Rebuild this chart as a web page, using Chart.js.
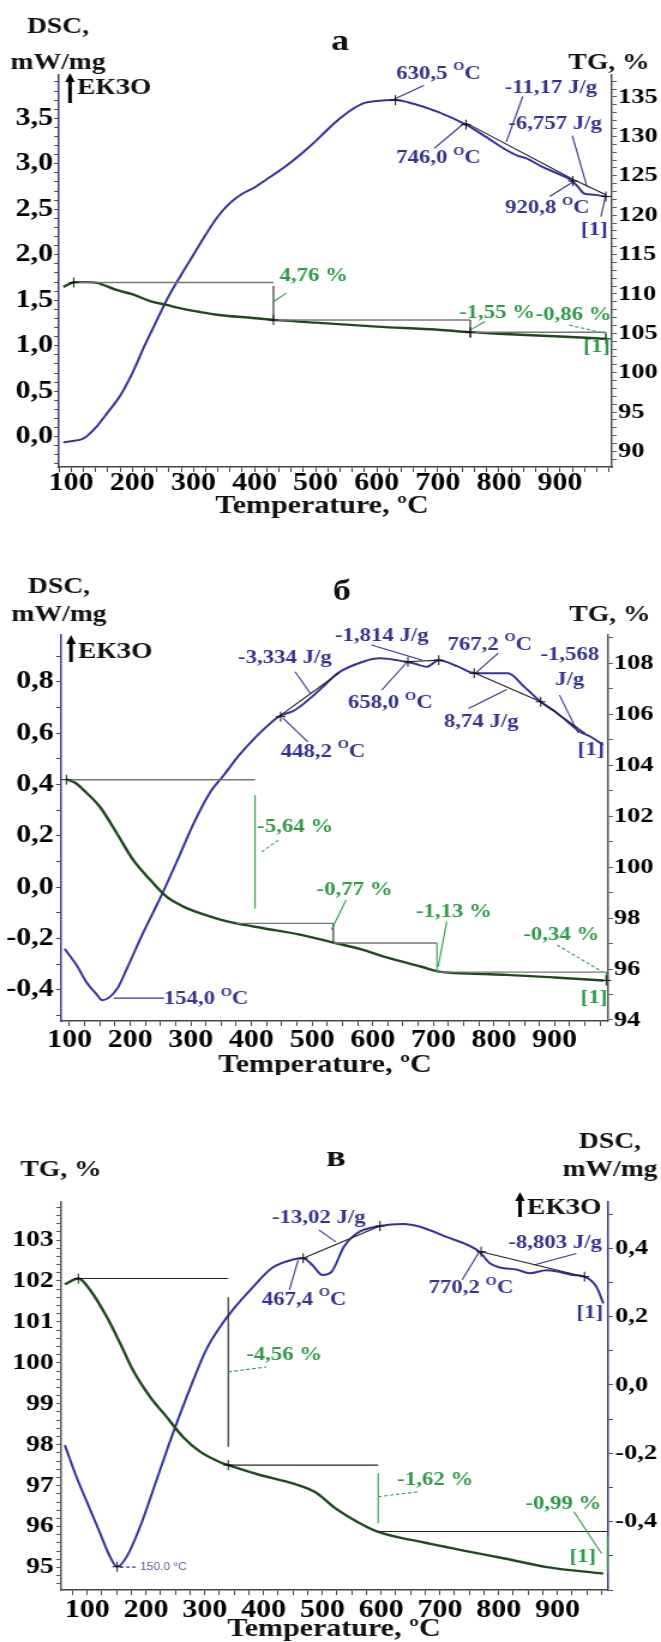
<!DOCTYPE html>
<html>
<head>
<meta charset="utf-8">
<script src="https://cdn.jsdelivr.net/npm/chart.js@4.4.1/dist/chart.umd.min.js"></script>
<style>
  body { margin: 0; background: #fff; }
  #page { position: relative; width: 661px; height: 1642px; overflow: hidden; }
  canvas { position: absolute; left: 0; }
</style>
</head>
<body>
<div id="page">
  <canvas id="chartA" width="551" height="525" style="top:0;width:661px;height:525px"></canvas>
  <canvas id="chartB" width="551" height="545" style="top:530px;width:661px;height:545px"></canvas>
  <canvas id="chartC" width="551" height="562" style="top:1080px;width:661px;height:562px"></canvas>
</div>
<script>
// the figure is a bit stretched sideways, so the canvases are drawn narrow and widened by css
const SX = 661 / 551;
const SERIF = "'Liberation Serif', 'Times New Roman', serif";
Chart.defaults.font.family = SERIF;

const xTicks = [100, 200, 300, 400, 500, 600, 700, 800, 900];

// ---- а ----
const tDscA = [87, 100, 120, 140, 160, 180, 200, 220, 240, 260, 280, 300, 320, 340, 360, 380, 400, 420, 440, 460,
  480, 500, 520, 540, 560, 580, 600, 630, 660, 700, 746, 780, 810, 830, 845, 870, 900, 920, 930, 940, 955, 975];
const dscA = [-0.06, -0.05, -0.02, 0.10, 0.27, 0.45, 0.70, 1.00, 1.28, 1.55, 1.78, 2.00, 2.22, 2.42, 2.57, 2.67, 2.74, 2.83, 2.92, 3.02,
  3.13, 3.25, 3.38, 3.50, 3.60, 3.67, 3.69, 3.70, 3.66, 3.57, 3.43, 3.29, 3.16, 3.09, 3.06, 2.97, 2.88, 2.81, 2.74, 2.67, 2.66, 2.64];
const tTgA = [87, 106, 125, 142, 174, 202, 229, 256, 283, 311, 345, 390, 431, 500, 600, 700, 753, 800, 900, 975];
const tgA = [110.9, 111.5, 111.5, 111.4, 110.5, 109.9, 109.1, 108.6, 108.1, 107.7, 107.3, 107.0, 106.7, 106.35, 105.85, 105.45, 105.15, 104.95, 104.6, 104.3];
const dscTicksA = [0, 0.5, 1, 1.5, 2, 2.5, 3, 3.5];
const tgTicksA = [90, 95, 100, 105, 110, 115, 120, 125, 130, 135];

// ---- б ----
const tDscB = [92, 112, 128, 145, 154, 165, 180, 195, 220, 250, 277, 304, 332, 354, 380, 403, 425, 445, 472, 500,
  520, 542, 584, 612, 654, 670, 689, 709, 740, 769, 800, 823, 850, 877, 900, 918, 942, 960, 980];
const dscB = [-0.24, -0.305, -0.37, -0.418, -0.44, -0.43, -0.39, -0.315, -0.185, -0.04, 0.10, 0.245, 0.37, 0.435, 0.515, 0.575, 0.625, 0.664, 0.69, 0.742,
  0.785, 0.833, 0.878, 0.891, 0.878, 0.87, 0.858, 0.884, 0.86, 0.833, 0.833, 0.833, 0.78, 0.722, 0.685, 0.651, 0.605, 0.585, 0.554];
const tTgB = [95, 110, 123, 150, 178, 205, 233, 260, 288, 315, 350, 375, 420, 480, 538, 580, 618, 650, 682, 709, 760, 821, 900, 981];
const tgB = [103.45, 103.3, 103.03, 102.37, 101.33, 100.28, 99.5, 98.84, 98.45, 98.19, 97.93, 97.79, 97.6, 97.35, 97.02, 96.78, 96.49, 96.28, 96.08, 95.9, 95.82, 95.77, 95.67, 95.55];
const dscTicksB = [-0.4, -0.2, 0, 0.2, 0.4, 0.6, 0.8];
const tgTicksB = [94, 96, 98, 100, 102, 104, 106, 108];

// ---- в ----
const tDscC = [62, 82, 99, 122, 139, 151, 167, 190, 218, 246, 275, 303, 328, 350, 380, 415, 450, 467, 483, 500,
  516, 537, 559, 598, 638, 666, 710, 767, 785, 802, 830, 853, 881, 905, 926, 946, 966, 978];
const dscC = [-0.176, -0.27, -0.34, -0.434, -0.503, -0.532, -0.503, -0.415, -0.278, -0.141, -0.01, 0.105, 0.175, 0.225, 0.283, 0.343, 0.367, 0.371, 0.351, 0.322,
  0.332, 0.405, 0.444, 0.465, 0.471, 0.463, 0.434, 0.39, 0.356, 0.344, 0.338, 0.327, 0.336, 0.33, 0.322, 0.317, 0.288, 0.239];
const tTgC = [62, 85, 105, 133, 156, 178, 207, 235, 263, 292, 328, 340, 394, 451, 487, 523, 559, 595, 666, 738, 810, 882, 978];
const tgC = [101.92, 102.06, 101.78, 101.13, 100.48, 99.82, 99.17, 98.68, 98.19, 97.83, 97.56, 97.5, 97.26, 97.05, 96.85, 96.44, 96.12, 95.87, 95.63, 95.42, 95.22, 95.01, 94.85];
const tgTicksC = [95, 96, 97, 98, 99, 100, 101, 102, 103];
const dscTicksC = [-0.4, -0.2, 0, 0.2, 0.4];

// annotations, in data units: [axis, text, T, value, colour]
const labelsA = [
  ['dsc', '630,5 °C', 701, 3.99, 'b'], ['dsc', '-11,17 J/g', 885, 3.83, 'b'], ['dsc', '746,0 °C', 701, 3.06, 'b'],
  ['dsc', '-6,757 J/g', 892, 3.44, 'b'], ['dsc', '920,8 °C', 879, 2.51, 'b'], ['dsc', '[1]', 956, 2.27, 'b'],
  ['tg', '4,76 %', 497, 112.2, 'g'], ['tg', '-1,55 %', 797, 107.55, 'g'], ['tg', '-0,86 %', 922, 107.35, 'g'], ['tg', '[1]', 960, 103.3, 'g']
];
const labelsB = [
  ['dsc', '-3,334 J/g', 455, 0.891, 'b'], ['dsc', '-1,814 J/g', 615, 0.978, 'b'], ['dsc', '767,2 °C', 793, 0.943, 'b'],
  ['dsc', '-1,568', 925, 0.904, 'b'], ['dsc', 'J/g', 925, 0.807, 'b'], ['dsc', '658,0 °C', 629, 0.716, 'b'],
  ['dsc', '8,74 J/g', 779, 0.644, 'b'], ['dsc', '448,2 °C', 518, 0.528, 'b'], ['dsc', '[1]', 960, 0.534, 'b'],
  ['dsc', '154,0 °C', 325, -0.437, 'b'],
  ['tg', '-5,64 %', 472, 101.59, 'g'], ['tg', '-0,77 %', 570, 99.1, 'g'], ['tg', '-1,13 %', 734, 98.25, 'g'],
  ['tg', '-0,34 %', 911, 97.34, 'g'], ['tg', '[1]', 965, 94.85, 'g']
];
const labelsC = [
  ['dsc', '-13,02 J/g', 494, 0.488, 'b'], ['dsc', '467,4 °C', 469, 0.249, 'b'], ['dsc', '770,2 °C', 753, 0.283, 'b'],
  ['dsc', '-8,803 J/g', 896, 0.415, 'b'], ['dsc', '[1]', 955, 0.21, 'b'],
  ['tg', '-4,56 %', 435, 100.19, 'g'], ['tg', '-1,62 %', 692, 97.13, 'g'], ['tg', '-0,99 %', 910, 96.56, 'g'], ['tg', '[1]', 943, 95.26, 'g']
];

// [axis, T1, v1, T2, v2, colour, dashed]
const linesA = [
  ['dsc', 677, 3.86, 628, 3.71, 'b'], ['dsc', 839, 3.74, 812, 3.24, 'b'], ['dsc', 694, 3.17, 742, 3.44, 'b'],
  ['dsc', 920, 3.31, 944, 2.75, 'b'], ['dsc', 883, 2.64, 921, 2.80, 'b'], ['dsc', 967, 2.42, 975, 2.66, 'b'],
  ['dsc', 746, 3.45, 920.8, 2.83, 'k'], ['dsc', 920.8, 2.83, 975, 2.66, 'k'],
  ['tg', 104, 111.45, 431, 111.45, 's'], ['tg', 431, 106.69, 753, 106.69, 's'], ['tg', 753, 105.14, 975, 105.14, 's'],
  ['tg', 431, 111.0, 431, 106.5, 'k'], ['tg', 753, 106.69, 753, 104.4, 'k'], ['tg', 975, 105.14, 975, 104.3, 'g'],
  ['tg', 452, 110.1, 431, 109.0, 'g'], ['tg', 777, 106.5, 753, 105.4, 'g'], ['tg', 915, 106.05, 973, 105.0, 'g', true]
];
const linesB = [
  ['dsc', 472, 0.839, 497, 0.755, 'b'], ['dsc', 598, 0.943, 682, 0.884, 'b'], ['dsc', 807, 0.911, 769, 0.833, 'b'],
  ['dsc', 908, 0.748, 939, 0.60, 'b'], ['dsc', 615, 0.768, 657, 0.878, 'b'], ['dsc', 758, 0.696, 821, 0.77, 'b'],
  ['dsc', 493, 0.566, 452, 0.658, 'b'], ['dsc', 173, -0.432, 256, -0.432, 'b'],
  ['dsc', 445, 0.664, 545, 0.835, 'k'], ['dsc', 658, 0.878, 709, 0.884, 'k'], ['dsc', 769, 0.833, 877, 0.722, 'k'], ['dsc', 877, 0.722, 950, 0.60, 'k'],
  ['tg', 95, 103.43, 406, 103.43, 's'], ['tg', 375, 97.79, 535, 97.79, 's'], ['tg', 535, 97.02, 706, 97.02, 's'], ['tg', 706, 95.88, 985, 95.88, 's'],
  ['tg', 406, 102.83, 406, 98.38, 'g'], ['tg', 535, 97.79, 535, 97.02, 'k'], ['tg', 706, 97.02, 706, 95.88, 'g'], ['tg', 985, 95.88, 985, 95.55, 'g'],
  ['tg', 417, 100.6, 445, 101.07, 'g', true], ['tg', 556, 98.71, 532, 97.54, 'g'], ['tg', 722, 97.86, 708, 96.09, 'g'], ['tg', 904, 96.94, 978, 95.9, 'g', true]
];
const linesC = [
  ['dsc', 494, 0.454, 523, 0.419, 'b'], ['dsc', 444, 0.278, 459, 0.366, 'b'], ['dsc', 738, 0.308, 767, 0.39, 'b'], ['dsc', 932, 0.385, 860, 0.351, 'b'],
  ['dsc', 156, -0.533, 186, -0.533, 'b', true],
  ['dsc', 467.4, 0.371, 598, 0.465, 'k'], ['dsc', 770.2, 0.39, 946, 0.317, 'k'],
  ['tg', 85, 102.06, 340, 102.06, 'k'], ['tg', 340, 97.5, 595, 97.5, 'k'], ['tg', 595, 95.88, 985, 95.88, 'k'],
  ['tg', 340, 101.6, 340, 97.95, 'k'], ['tg', 595, 97.3, 595, 96.08, 'g'], ['tg', 985, 95.75, 985, 94.89, 'g'],
  ['tg', 340, 99.78, 405, 99.9, 'g', true], ['tg', 595, 96.73, 663, 96.85, 'g', true], ['tg', 928, 96.36, 975, 95.34, 'g']
];

// small + marks: [axis, T, value]
const crossesA = [['dsc', 630.5, 3.70], ['dsc', 746, 3.43], ['dsc', 920.8, 2.81], ['dsc', 975, 2.64],
  ['tg', 104, 111.45], ['tg', 431, 106.69], ['tg', 753, 105.14], ['tg', 975, 104.3]];
const crossesB = [['dsc', 448.2, 0.664], ['dsc', 658, 0.878], ['dsc', 709, 0.884], ['dsc', 767.2, 0.833], ['dsc', 877, 0.722],
  ['tg', 95, 103.43], ['tg', 985, 95.55]];
const crossesC = [['dsc', 467.4, 0.371], ['dsc', 598, 0.465], ['dsc', 770.2, 0.39], ['dsc', 946, 0.317], ['dsc', 151, -0.532],
  ['tg', 85, 102.06], ['tg', 340, 97.5]];

const COL = { b: '#34348f', g: '#2f9a48', k: '#222', s: '#777' };

function tickSet(step, min, max) {
  const out = [];
  for (let k = Math.ceil(min / step - 1e-9); k * step <= max + 1e-9; k++) {
    out.push({ value: Math.round(k * step * 1e6) / 1e6 });
  }
  return out;
}
const isMajor = (list, v) => list.some(m => Math.abs(m - v) < 1e-6);
const comma = v => v.toFixed(1).replace('.', ',');

function drawText(ctx, text, x, y, color, size, align) {
  const font = s => 'bold ' + s + 'px ' + SERIF;
  ctx.fillStyle = color;
  ctx.textBaseline = 'middle';
  const i = text.indexOf('°');
  if (i < 0) {
    ctx.font = font(size);
    ctx.textAlign = align || 'center';
    ctx.fillText(text, x, y);
    return;
  }
  // the degree sign is printed as a raised capital O in the original
  const a = text.slice(0, i), b = text.slice(i + 1), ss = Math.round(size * 0.62);
  ctx.font = font(size);
  const wa = ctx.measureText(a).width, wb = ctx.measureText(b).width;
  ctx.font = font(ss);
  const wo = ctx.measureText('O').width;
  const x0 = x - (wa + wo + wb) / 2;
  ctx.textAlign = 'left';
  ctx.font = font(size); ctx.fillText(a, x0, y);
  ctx.font = font(ss); ctx.fillText('O', x0 + wa, y - size * 0.36);
  ctx.font = font(size); ctx.fillText(b, x0 + wa + wo, y);
}

function drawNotes(chart, p) {
  const ctx = chart.ctx;
  const X = chart.scales.x;
  const px = t => X.getPixelForValue(t);
  const py = (a, v) => chart.scales[a].getPixelForValue(v);
  ctx.save();
  p.lines.forEach(([a, t1, v1, t2, v2, c, dash]) => {
    ctx.beginPath();
    ctx.setLineDash(dash ? [3, 2] : []);
    ctx.strokeStyle = COL[c];
    ctx.lineWidth = c === 's' ? 1.4 : 1.1;
    ctx.moveTo(px(t1), py(a, v1));
    ctx.lineTo(px(t2), py(a, v2));
    ctx.stroke();
  });
  ctx.setLineDash([]);
  p.crosses.forEach(([a, t, v]) => {
    const x = px(t), y = py(a, v);
    ctx.beginPath();
    ctx.strokeStyle = '#111';
    ctx.lineWidth = 1;
    ctx.moveTo(x - 4, y); ctx.lineTo(x + 4, y);
    ctx.moveTo(x, y - 5); ctx.lineTo(x, y + 5);
    ctx.stroke();
  });
  p.labels.forEach(([a, text, t, v, c]) => drawText(ctx, text, px(t), py(a, v), COL[c], 19));
  if (p.small) {
    ctx.font = '10px "Liberation Sans", sans-serif';
    ctx.fillStyle = '#5a5a9a';
    ctx.textAlign = 'left';
    ctx.textBaseline = 'middle';
    ctx.fillText(p.small[0], px(p.small[1]), py('dsc', p.small[2]));
  }
  // axis captions and panel letter, page coordinates
  const top = p.canvasTop;
  p.titles.forEach(([text, x, y, size]) => drawText(ctx, text, x / SX, y - top, '#111', size));
  const [ax, ay1, ay2, tx, ty] = p.exo;
  ctx.strokeStyle = '#000'; ctx.fillStyle = '#000'; ctx.lineWidth = 3;
  ctx.beginPath(); ctx.moveTo(ax / SX, ay1 - top + 7); ctx.lineTo(ax / SX, ay2 - top); ctx.stroke();
  ctx.beginPath();
  ctx.moveTo(ax / SX, ay1 - top); ctx.lineTo(ax / SX - 4, ay1 - top + 9); ctx.lineTo(ax / SX + 4, ay1 - top + 9);
  ctx.closePath(); ctx.fill();
  drawText(ctx, 'ЕКЗО', tx / SX, ty - top, '#111', 23, 'left');
  ctx.restore();
}

function yScale(pos, min, max, list, step, width, fmt, size, pad, color) {
  return {
    type: 'linear', position: pos, min: min, max: max,
    afterFit: s => { s.width = width; },
    afterBuildTicks: s => { s.ticks = tickSet(step, min, max); },
    ticks: {
      autoSkip: false, padding: pad, color: '#000',
      font: { family: SERIF, weight: 'bold', size: size },
      callback: v => isMajor(list, v) ? fmt(v) : ''
    },
    grid: { drawOnChartArea: false, tickLength: 4, color: color },
    border: { color: color, width: 1.5 }
  };
}

function buildPanel(id, p) {
  const dscSet = { data: p.tDsc.map((t, i) => ({ x: t, y: p.dsc[i] })), yAxisID: 'dsc',
    borderColor: '#3232a0', borderWidth: 2, pointRadius: 0, cubicInterpolationMode: 'monotone' };
  const tgSet = { data: p.tTg.map((t, i) => ({ x: t, y: p.tg[i] })), yAxisID: 'tg',
    borderColor: '#1f4a1f', borderWidth: 2.4, pointRadius: 0, cubicInterpolationMode: 'monotone' };
  return new Chart(document.getElementById(id), {
    type: 'line',
    data: { datasets: [tgSet, dscSet] },
    options: {
      responsive: false, animation: false, devicePixelRatio: 1,
      layout: { padding: { top: p.padTop, left: 0, right: 0, bottom: 0 } },
      plugins: { legend: { display: false }, tooltip: { enabled: false } },
      scales: {
        x: {
          type: 'linear', min: p.xMin, max: p.xMax,
          afterFit: s => { s.height = p.xAxisH; },
          afterBuildTicks: s => { s.ticks = tickSet(p.xStep, p.xMin, p.xMax); },
          ticks: {
            autoSkip: false, maxRotation: 0, padding: p.xPad, color: '#000',
            font: { family: SERIF, weight: 'bold', size: 25, lineHeight: 1 },
            callback: v => isMajor(xTicks, v) ? String(v) : ''
          },
          grid: { drawOnChartArea: false, tickLength: 5, color: '#444' },
          border: { color: '#444', width: 1.5 }
        },
        dsc: yScale(p.dscPos, p.dscMin, p.dscMax, p.dscTicks, p.dscStep, p.dscW, comma, p.dscFont, p.dscPad, '#3a3a80'),
        tg: yScale(p.tgPos, p.tgMin, p.tgMax, p.tgTicks, p.tgStep, p.tgW, v => String(Math.round(v)), p.tgFont, p.tgPad, '#555')
      }
    },
    plugins: [{ id: 'notes', afterDraw: c => drawNotes(c, p) }]
  });
}

buildPanel('chartA', {
  canvasTop: 0, padTop: 75, xAxisH: 58, xPad: -1,
  xMin: 80, xMax: 985, xStep: 20,
  tDsc: tDscA, dsc: dscA, tTg: tTgA, tg: tgA,
  dscPos: 'left', dscMin: -0.333, dscMax: 3.976, dscTicks: dscTicksA, dscStep: 0.1, dscW: 59 / SX, dscFont: 25, dscPad: 1,
  tgPos: 'right', tgMin: 88.03, tgMax: 137.79, tgTicks: tgTicksA, tgStep: 1, tgW: 49 / SX, tgFont: 22, tgPad: 1,
  labels: labelsA, lines: linesA, crosses: crossesA,
  titles: [['DSC,', 58, 27, 23], ['mW/mg', 58, 63, 23], ['а', 340, 42, 30], ['TG, %', 609, 63, 23], ['Temperature, ºC', 322, 507, 25]],
  exo: [70, 73, 103, 77, 88]
});

buildPanel('chartB', {
  canvasTop: 530, padTop: 105, xAxisH: 54, xPad: 2,
  xMin: 86, xMax: 988, xStep: 25,
  tDsc: tDscB, dsc: dscB, tTg: tTgB, tg: tgB,
  dscPos: 'left', dscMin: -0.521, dscMax: 0.982, dscTicks: dscTicksB, dscStep: 0.1, dscW: 61 / SX, dscFont: 25, dscPad: 2,
  tgPos: 'right', tgMin: 93.96, tgMax: 109.11, tgTicks: tgTicksB, tgStep: 1, tgW: 53 / SX, tgFont: 22, tgPad: 1,
  labels: labelsB, lines: linesB, crosses: crossesB,
  titles: [['DSC,', 59, 587, 23], ['mW/mg', 59, 615, 23], ['б', 342, 592, 30], ['TG, %', 610, 615, 23], ['Temperature, ºC', 325, 1066, 25]],
  exo: [71, 635, 662, 78, 652]
});

buildPanel('chartC', {
  canvasTop: 1080, padTop: 122, xAxisH: 52, xPad: 3,
  xMin: 55.5, xMax: 986, xStep: 25,
  tDsc: tDscC, dsc: dscC, tTg: tTgC, tg: tgC,
  tgPos: 'left', tgMin: 94.45, tgMax: 103.93, tgTicks: tgTicksC, tgStep: 0.2, tgW: 61 / SX, tgFont: 23, tgPad: 2,
  dscPos: 'right', dscMin: -0.6, dscMax: 0.5355, dscTicks: dscTicksC, dscStep: 0.1, dscW: 53 / SX, dscFont: 22, dscPad: 2,
  labels: labelsC, lines: linesC, crosses: crossesC,
  small: ['150.0 °C', 190, -0.533],
  titles: [['TG, %', 61, 1170, 23], ['в', 336, 1158, 30], ['DSC,', 610, 1142, 23], ['mW/mg', 610, 1170, 23], ['Temperature, ºC', 334, 1630, 25]],
  exo: [520, 1192, 1217, 527, 1208]
});
</script>
</body>
</html>
